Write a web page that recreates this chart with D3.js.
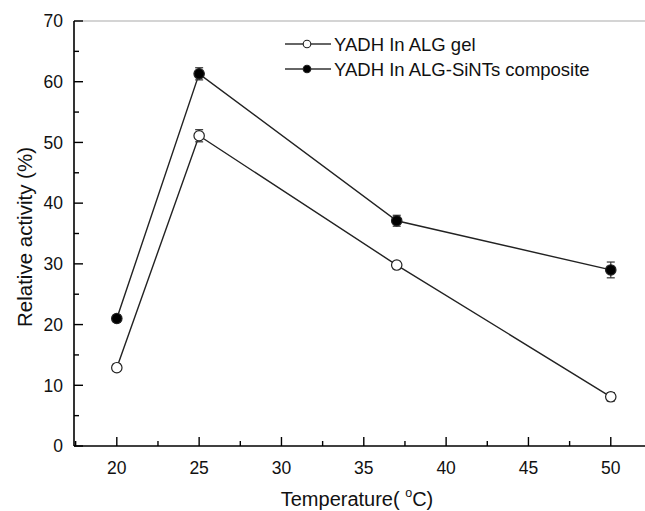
<!DOCTYPE html>
<html><head><meta charset="utf-8">
<script src="https://cdn.jsdelivr.net/npm/d3@7"></script>
<style>body{margin:0;background:#fff;} svg{display:block;font-family:"Liberation Sans",Arial,sans-serif;}</style>
</head><body>
<svg id="c" width="645" height="511"></svg>
<script>
const temps = [20, 25, 37, 50];
const gelValues = [12.9, 51.1, 29.8, 8.1];
const gelErrors = [0.6, 1.0, 0.6, 0.7];
const compValues = [21.0, 61.3, 37.1, 29.0];
const compErrors = [0.6, 1.0, 0.9, 1.3];
const seriesNames = ["YADH In ALG gel", "YADH In ALG-SiNTs composite"];
const xTicks = [20, 25, 30, 35, 40, 45, 50];
const yTicks = [0, 10, 20, 30, 40, 50, 60, 70];

const svg = d3.select("#c");
const x = d3.scaleLinear().domain([17.4, 52.2]).range([74, 647]);
const y = d3.scaleLinear().domain([0, 70]).range([446, 21]);

// top border
svg.append("line").attr("x1", 74).attr("x2", 645).attr("y1", y(70)).attr("y2", y(70))
  .attr("stroke", "#aaa").attr("stroke-width", 1.2);

// y axis
const yAx = svg.append("g").attr("transform", "translate(74,0)");
yAx.append("line").attr("y1", y(0)).attr("y2", y(70)).attr("stroke", "#000").attr("stroke-width", 1.6);
d3.range(0, 71, 5).forEach(v => {
  const major = v % 10 === 0;
  yAx.append("line").attr("x1", 0).attr("x2", major ? 9 : 5).attr("y1", y(v)).attr("y2", y(v))
    .attr("stroke", "#000").attr("stroke-width", 1.4);
});
yTicks.forEach(v => {
  yAx.append("text").attr("x", -11).attr("y", y(v)).attr("dy", "0.36em").attr("text-anchor", "end")
    .attr("font-size", 17.5).attr("fill", "#111").text(v);
});

// x axis
const xAx = svg.append("g").attr("transform", "translate(0,446)");
xAx.append("line").attr("x1", 74).attr("x2", 645).attr("stroke", "#000").attr("stroke-width", 1.6);
d3.range(17.5, 52.6, 2.5).forEach(v => {
  const major = v % 5 === 0;
  xAx.append("line").attr("x1", x(v)).attr("x2", x(v)).attr("y1", 0).attr("y2", major ? -9 : -5)
    .attr("stroke", "#000").attr("stroke-width", 1.4);
});
xTicks.forEach(v => {
  xAx.append("text").attr("x", x(v)).attr("y", 28).attr("text-anchor", "middle")
    .attr("font-size", 17.5).attr("fill", "#111").text(v);
});

// axis titles
svg.append("text").attr("transform", "translate(32,237) rotate(-90)").attr("text-anchor", "middle")
  .attr("font-size", 20.5).attr("fill", "#111").text("Relative activity (%)");
const xt = svg.append("text").attr("x", 357).attr("y", 506).attr("text-anchor", "middle")
  .attr("font-size", 20).attr("fill", "#111");
xt.append("tspan").text("Temperature( ");
xt.append("tspan").attr("font-size", 12.5).attr("dy", -9).text("o");
xt.append("tspan").attr("dy", 9).text("C)");

const line = d3.line().x(d => x(d[0])).y(d => y(d[1]));
function drawSeries(vals, errs, filled) {
  const data = temps.map((t, i) => [t, vals[i], errs[i]]);
  svg.append("path").datum(data).attr("d", line).attr("fill", "none").attr("stroke", "#222").attr("stroke-width", 1.4);
  const g = svg.append("g");
  data.forEach(d => {
    const cx = x(d[0]);
    g.append("line").attr("x1", cx).attr("x2", cx).attr("y1", y(d[1] - d[2])).attr("y2", y(d[1] + d[2])).attr("stroke", "#333").attr("stroke-width", 1.2);
    [d[1] - d[2], d[1] + d[2]].forEach(e => {
      g.append("line").attr("x1", cx - 4).attr("x2", cx + 4).attr("y1", y(e)).attr("y2", y(e)).attr("stroke", "#333").attr("stroke-width", 1.2);
    });
    g.append("circle").attr("cx", cx).attr("cy", y(d[1])).attr("r", 5.2)
      .attr("fill", filled ? "#000" : "#fff").attr("stroke", "#222").attr("stroke-width", 1.2);
  });
}
drawSeries(gelValues, gelErrors, false);
drawSeries(compValues, compErrors, true);

// legend
seriesNames.forEach((name, i) => {
  const ly = 44 + i * 25;
  const g = svg.append("g");
  g.append("line").attr("x1", 285).attr("x2", 331).attr("y1", ly).attr("y2", ly).attr("stroke", "#333").attr("stroke-width", 1.4);
  g.append("circle").attr("cx", 307).attr("cy", ly).attr("r", 3.8)
    .attr("fill", i === 0 ? "#fff" : "#000").attr("stroke", "#222").attr("stroke-width", 1.1);
  g.append("text").attr("x", 334).attr("y", ly).attr("dy", "0.36em").attr("font-size", 18.5).attr("fill", "#111").text(name);
});
</script>
</body></html>
